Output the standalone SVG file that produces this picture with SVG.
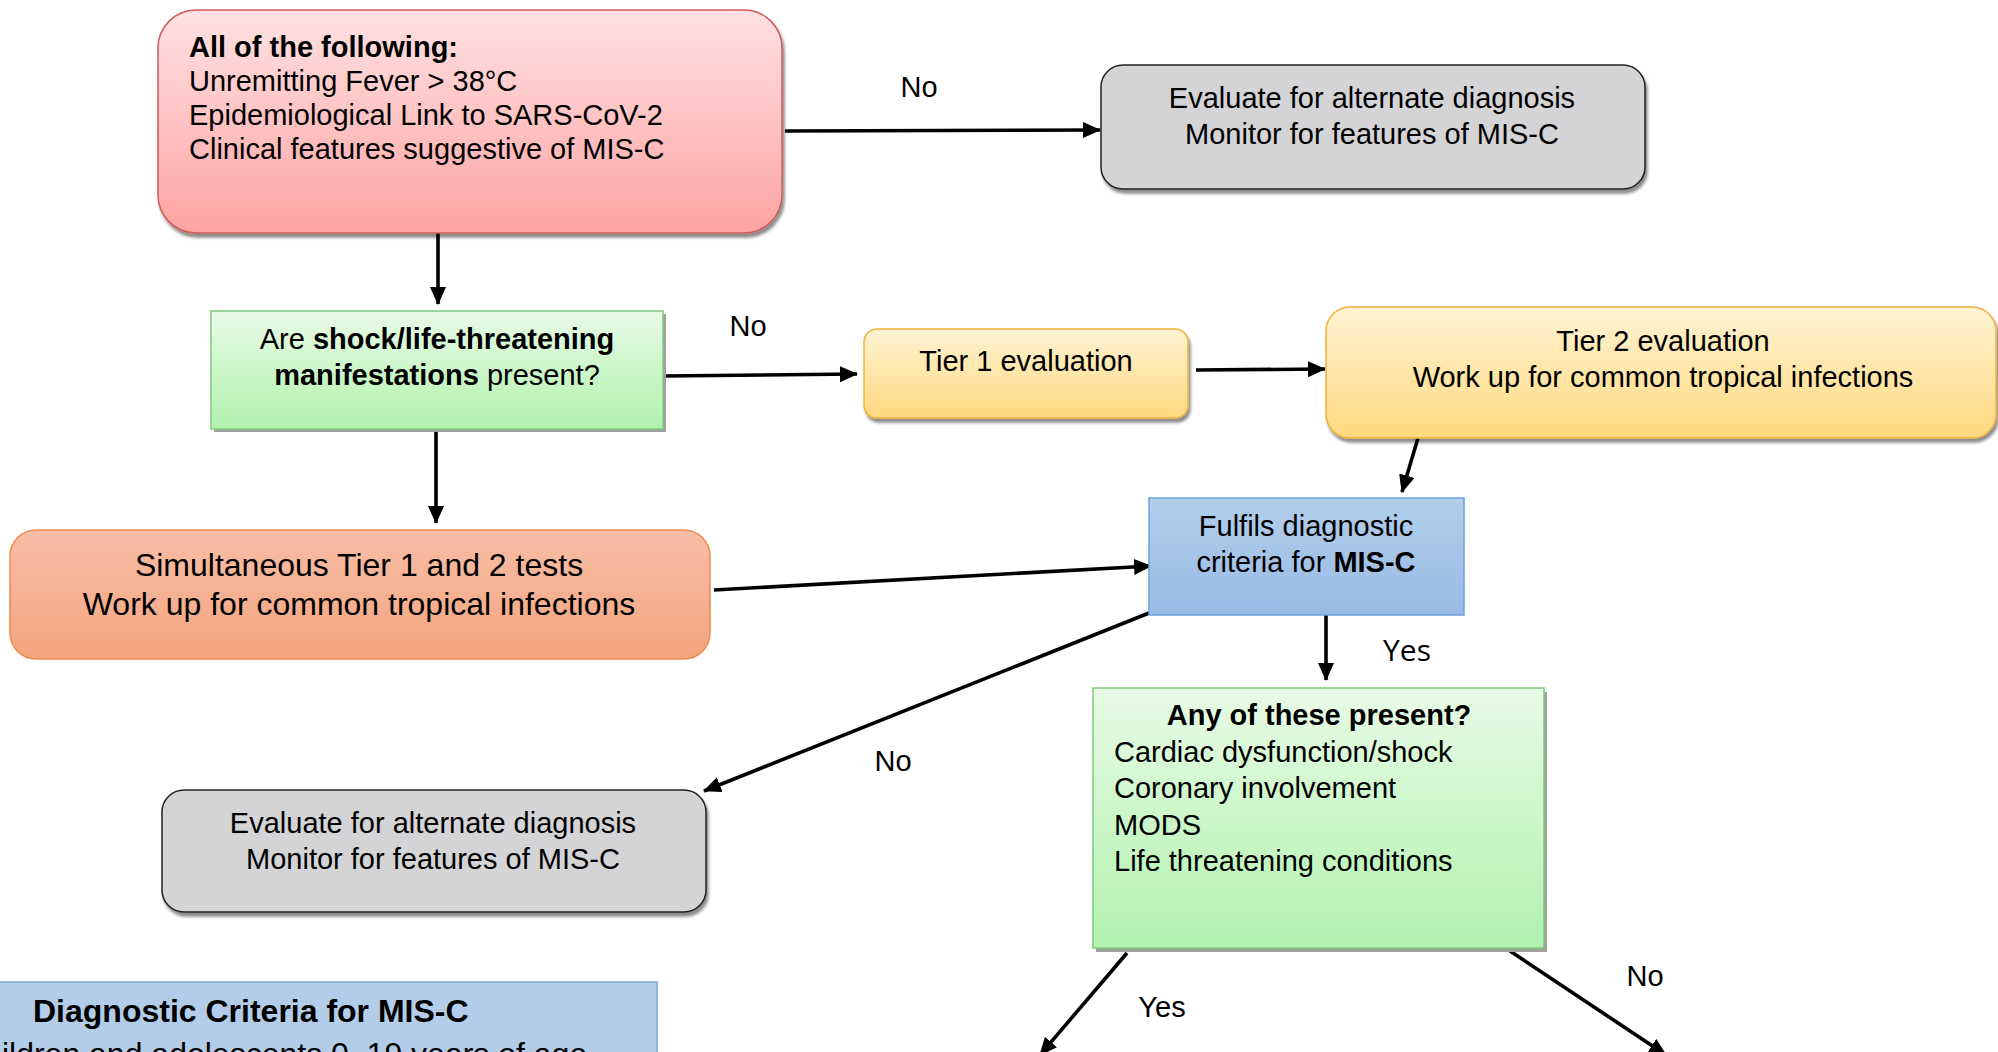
<svg xmlns="http://www.w3.org/2000/svg" width="1998" height="1052" viewBox="0 0 1998 1052">
<style>
  text { font-family: "Liberation Sans", Arial, sans-serif; font-size: 29px; fill: #000; }
  .c { text-anchor: middle; }
  .b { font-weight: bold; }
  .big { font-size: 32px; }
  .edge { fill: none; stroke: #000; stroke-width: 3.6; marker-end: url(#ah); }
  .lbl { font-size: 29px; }
  .cal { font-family: "Open Sans", "Liberation Sans", sans-serif; font-size: 30px; }
</style>
<defs>
  <marker id="ah" markerUnits="userSpaceOnUse" markerWidth="20" markerHeight="18" refX="17" refY="8" orient="auto">
    <path d="M0,0 L18,8 L0,16 Z" fill="#000"/>
  </marker>
  <filter id="sh" x="-5%" y="-10%" width="112%" height="130%">
    <feDropShadow dx="2" dy="4" stdDeviation="1.5" flood-color="#000" flood-opacity="0.45"/>
  </filter>
  <linearGradient id="gRed" x1="0" y1="0" x2="0" y2="1">
    <stop offset="0" stop-color="#ffe2e2"/><stop offset="1" stop-color="#fea3a3"/>
  </linearGradient>
  <linearGradient id="gGreen" x1="0" y1="0" x2="0" y2="1">
    <stop offset="0" stop-color="#e8fbe6"/><stop offset="1" stop-color="#b1f2ae"/>
  </linearGradient>
  <linearGradient id="gYel" x1="0" y1="0" x2="0" y2="1">
    <stop offset="0" stop-color="#fff3d3"/><stop offset="1" stop-color="#ffd97f"/>
  </linearGradient>
  <linearGradient id="gOr" x1="0" y1="0" x2="0" y2="1">
    <stop offset="0" stop-color="#f7bea6"/><stop offset="1" stop-color="#f5a47f"/>
  </linearGradient>
  <linearGradient id="gBlue" x1="0" y1="0" x2="0" y2="1">
    <stop offset="0" stop-color="#b3ceeb"/><stop offset="1" stop-color="#98bae5"/>
  </linearGradient>
</defs>

<rect width="1998" height="1052" fill="#fff"/>

<g id="connectors">
  <line class="edge" x1="785" y1="131" x2="1100" y2="130"/>
  <line class="edge" x1="438" y1="233" x2="438" y2="304"/>
  <line class="edge" x1="663" y1="376" x2="857" y2="374"/>
  <line class="edge" x1="1196" y1="370" x2="1325" y2="369"/>
  <line class="edge" x1="1418" y1="438" x2="1402" y2="492"/>
  <line class="edge" x1="436" y1="432" x2="436" y2="523"/>
  <line class="edge" x1="714" y1="590" x2="1151" y2="566"/>
  <line class="edge" x1="1326" y1="615" x2="1326" y2="680"/>
  <line class="edge" x1="1149" y1="613" x2="704" y2="791"/>
  <line class="edge" x1="1127" y1="953" x2="1040" y2="1055"/>
  <line class="edge" x1="1510" y1="951" x2="1666" y2="1055"/>
</g>

<g id="labels">
  <text class="lbl c" x="919" y="97">No</text>
  <text class="lbl c" x="748" y="336">No</text>
  <text class="cal c" x="1407" y="661">Yes</text>
  <text class="lbl c" x="893" y="771">No</text>
  <text class="lbl c" x="1162" y="1017">Yes</text>
  <text class="lbl c" x="1645" y="986">No</text>
</g>

<g id="n-criteria">
  <rect x="158" y="10" width="624" height="223" rx="38" fill="url(#gRed)" stroke="#cf5a5a" stroke-width="1.5" filter="url(#sh)"/>
  <text class="b" x="189" y="57">All of the following:</text>
  <text x="189" y="91">Unremitting Fever &gt; 38°C</text>
  <text x="189" y="125">Epidemiological Link to SARS-CoV-2</text>
  <text x="189" y="159">Clinical features suggestive of MIS-C</text>
</g>

<g id="n-alt1">
  <rect x="1101" y="65" width="544" height="124" rx="22" fill="#d4d4d7" stroke="#222" stroke-width="1.5" filter="url(#sh)"/>
  <text class="c" x="1372" y="108">Evaluate for alternate diagnosis</text>
  <text class="c" x="1372" y="144">Monitor for features of MIS-C</text>
</g>

<g id="n-shock">
  <rect x="214" y="314" width="452" height="118" fill="#a0a0a0"/>
  <rect x="211" y="311" width="452" height="118" fill="url(#gGreen)" stroke="#7fc97c" stroke-width="1.5"/>
  <text class="c" x="437" y="349">Are <tspan class="b">shock/life-threatening</tspan></text>
  <text class="c" x="437" y="385"><tspan class="b">manifestations</tspan> present?</text>
</g>

<g id="n-tier1">
  <rect x="864" y="329" width="324" height="89" rx="13" fill="url(#gYel)" stroke="#efb33a" stroke-width="1.5" filter="url(#sh)"/>
  <text class="c" x="1026" y="371">Tier 1 evaluation</text>
</g>

<g id="n-tier2">
  <rect x="1326" y="307" width="670" height="131" rx="24" fill="url(#gYel)" stroke="#efb33a" stroke-width="1.5" filter="url(#sh)"/>
  <text class="c" x="1663" y="351">Tier 2 evaluation</text>
  <text class="c" x="1663" y="387">Work up for common tropical infections</text>
</g>

<g id="n-simul">
  <rect x="10" y="530" width="700" height="129" rx="26" fill="url(#gOr)" stroke="#ef8c4f" stroke-width="1.5"/>
  <text class="c big" x="359" y="576">Simultaneous Tier 1 and 2 tests</text>
  <text class="c big" x="359" y="615">Work up for common tropical infections</text>
</g>

<g id="n-fulfils">
  <rect x="1149" y="498" width="315" height="117" fill="url(#gBlue)" stroke="#6ea2dd" stroke-width="1.5"/>
  <text class="c" x="1306" y="536">Fulfils diagnostic</text>
  <text class="c" x="1306" y="572">criteria for <tspan class="b">MIS-C</tspan></text>
</g>

<g id="n-alt2">
  <rect x="162" y="790" width="544" height="122" rx="22" fill="#d4d4d7" stroke="#222" stroke-width="1.5" filter="url(#sh)"/>
  <text class="c" x="433" y="833">Evaluate for alternate diagnosis</text>
  <text class="c" x="433" y="869">Monitor for features of MIS-C</text>
</g>

<g id="n-any">
  <rect x="1096" y="692" width="451" height="260" fill="#a0a0a0"/>
  <rect x="1093" y="688" width="451" height="260" fill="url(#gGreen)" stroke="#7fc97c" stroke-width="1.5"/>
  <text class="c b" x="1319" y="725">Any of these present?</text>
  <text x="1114" y="762">Cardiac dysfunction/shock</text>
  <text x="1114" y="798">Coronary involvement</text>
  <text x="1114" y="835">MODS</text>
  <text x="1114" y="871">Life threatening conditions</text>
</g>

<g id="n-diag">
  <rect x="-2" y="982" width="659" height="80" fill="#b3cde9" stroke="#7aa8dc" stroke-width="1.5"/>
  <text class="b big" x="33" y="1022">Diagnostic Criteria for MIS-C</text>
  <text class="big" x="-39" y="1065">Children and adolescents 0–19 years of age</text>
</g>
</svg>
